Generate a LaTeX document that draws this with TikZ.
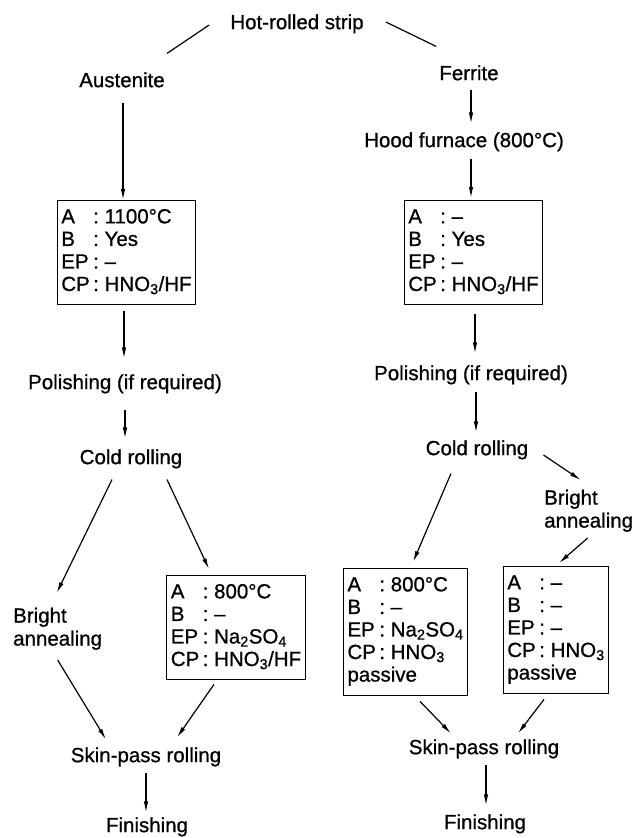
\documentclass[tikz,border=0pt]{standalone}
\usepackage{fontspec}
\setmainfont[FakeBold=0.8]{Liberation Sans}
\usetikzlibrary{arrows.meta}
\newcommand\dgfont{\fontsize{20.5}{23}\selectfont}
\renewcommand{\arraystretch}{0.98}
\begin{document}
\begin{tikzpicture}[x=1pt,y=-1pt,
  txt/.style={inner sep=0pt, text height=14.5pt, text depth=4.2pt, font=\dgfont},
  twoline/.style={inner sep=0pt, align=left, font=\dgfont, anchor=north west},
  boxnode/.style={draw, line width=1.2pt, inner xsep=4pt, inner ysep=7pt, font=\dgfont, anchor=north},
  arr/.style={line width=1.2pt, -{Latex[length=11pt,width=4.5pt]}},
  plain/.style={line width=1.2pt}]
\fill[white] (0,0) rectangle (637,838);
\useasboundingbox (0,0) rectangle (637,838);

\node[txt] (hrs) at (297,24) {Hot-rolled strip};
\node[txt] (aus) at (122,82) {Austenite};
\node[txt] (fer) at (469,75) {Ferrite};
\node[txt] (hood) at (464,142) {Hood furnace (800°C)};
\node[boxnode] (L1) at (126.5,200) {\begin{tabular}{@{}l@{\,:\ }l@{}}A & 1100°C\\ B & Yes\\ EP & –\\ CP & HNO\textsubscript{3}/HF\end{tabular}};
\node[boxnode] (R1) at (473.5,200) {\begin{tabular}{@{}l@{\,:\ }l@{}}A & –\\ B & Yes\\ EP & –\\ CP & HNO\textsubscript{3}/HF\end{tabular}};
\node[txt] (polL) at (125,384) {Polishing (if required)};
\node[txt] (polR) at (471,375) {Polishing (if required)};
\node[txt] (coldL) at (131,459) {Cold rolling};
\node[txt] (coldR) at (477,450) {Cold rolling};
\node[twoline] (brL) at (13,607.5) {Bright\\annealing};
\node[twoline] (brR) at (544,489.5) {Bright\\annealing};
\node[boxnode] (L2) at (236,575) {\begin{tabular}{@{}l@{\,:\ }l@{}}A & 800°C\\ B & –\\ EP & Na\textsubscript{2}SO\textsubscript{4}\\ CP & HNO\textsubscript{3}/HF\end{tabular}};
\node[boxnode] (R2) at (405.5,568) {\begin{tabular}{@{}l@{\,:\ }l@{}}A & 800°C\\ B & –\\ EP & Na\textsubscript{2}SO\textsubscript{4}\\ CP & HNO\textsubscript{3}\\ \multicolumn{2}{@{}l@{}}{passive}\end{tabular}};
\node[boxnode] (R3) at (556,566) {\begin{tabular}{@{}l@{\,:\ }l@{}}A & –\\ B & –\\ EP & –\\ CP & HNO\textsubscript{3}\\ \multicolumn{2}{@{}l@{}}{passive}\end{tabular}};
\node[txt] (skL) at (146,757) {Skin-pass rolling};
\node[txt] (skR) at (484,749) {Skin-pass rolling};
\node[txt] (finL) at (147,827) {Finishing};
\node[txt] (finR) at (485,824) {Finishing};

\draw[plain] ([shift={(-21,1)}]hrs.west) -- ([shift={(2,-19)}]aus.north east);
\draw[plain] ([shift={(22,-2)}]hrs.east) -- ([shift={(-3,-19)}]fer.north west);
\draw[arr] ([shift={(1,11)}]aus.south) -- ([shift={(-3.5,0)}]L1.north);
\draw[arr] ([shift={(2,5.5)}]fer.south) -- ([shift={(7,-9)}]hood.north);
\draw[arr] ([shift={(7,7.5)}]hood.south) -- ([shift={(-2.5,-2)}]R1.north);
\draw[arr] ([shift={(-2.5,6)}]L1.south) -- ([shift={(-1,-16)}]polL.north);
\draw[arr] ([shift={(0,16)}]polL.south) -- ([shift={(-6,-11)}]coldL.north);
\draw[arr] ([shift={(1.5,9)}]R1.south) -- ([shift={(4,-12)}]polR.north);
\draw[arr] ([shift={(5,7)}]polR.south) -- ([shift={(-1,-8)}]coldR.north);
\draw[arr] ([shift={(-19,11)}]coldL.south) -- ([shift={(-1,-14.5)}]brL.north);
\draw[arr] ([shift={(36,11)}]coldL.south) -- ([shift={(-27,-6)}]L2.north);
\draw[arr] ([shift={(0,10)}]brL.south) -- ([shift={(-40,-8)}]skL.north);
\draw[arr] ([shift={(-22,4)}]L2.south) -- ([shift={(31,-10)}]skL.north);
\draw[arr] ([shift={(0,6)}]skL.south) -- ([shift={(-1,-5)}]finL.north);
\draw[arr] ([shift={(-26,14)}]coldR.south) -- ([shift={(7.5,-6)}]R2.north);
\draw[arr] ([shift={(15,5)}]coldR.east) -- ([shift={(-8,-9.5)}]brR.north);
\draw[arr] ([shift={(-1,6)}]brR.south) -- ([shift={(3,-3)}]R3.north);
\draw[arr] ([shift={(14.5,5.5)}]R2.south) -- ([shift={(-33,-6)}]skR.north);
\draw[arr] ([shift={(-12,5.5)}]R3.south) -- ([shift={(34,-6)}]skR.north);
\draw[arr] ([shift={(2,6)}]skR.south) -- ([shift={(1,-9)}]finR.north);
\end{tikzpicture}
\end{document}
